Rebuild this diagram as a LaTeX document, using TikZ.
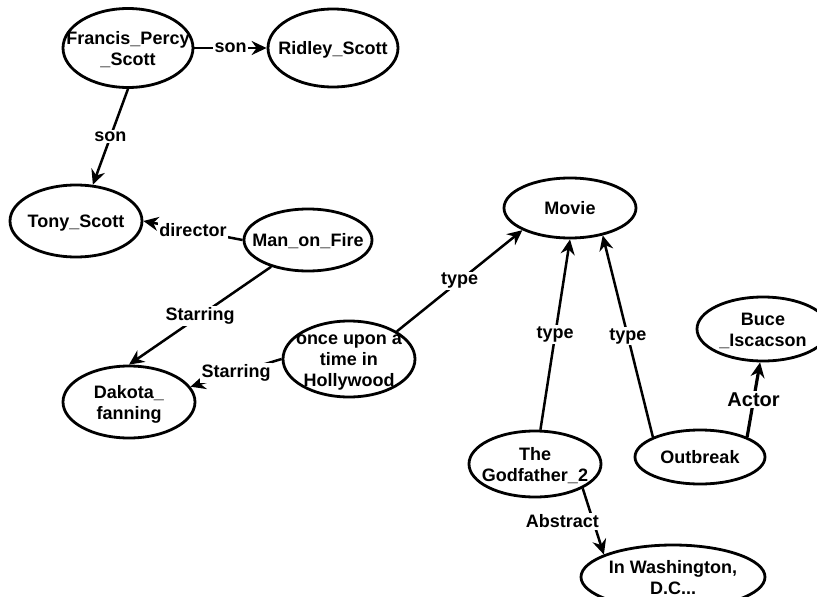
\documentclass[tikz,border=0pt]{standalone}
\usepackage{fontspec}
\setmainfont{Liberation Sans}
\usetikzlibrary{arrows.meta, shapes.geometric}

% text of an entity, kept out of the ellipse size
\newcommand{\entxt}[1]{\makebox[0pt]{\raisebox{-0.38em}[0pt][0pt]{\begin{tabular}{@{}c@{}}#1\end{tabular}}}}

\begin{document}
\begin{tikzpicture}[
    x=1pt, y=-1pt,
    ent/.style={ellipse, draw=black, line width=2.8pt, inner sep=0pt,
        font=\bfseries\fontsize{18}{21}\selectfont},
    rel/.style={-{Stealth[length=15pt, width=14pt, inset=5pt]}, line width=2.5pt},
    lbl/.style={fill=white, inner sep=1.5pt, font=\bfseries\fontsize{18}{21}\selectfont}
]
    \useasboundingbox (0,0) rectangle (817,597);

    % ---- entities ----
    \node[ent, minimum width=130pt, minimum height=79pt] (francis)  at (128,48)  {\entxt{Francis\_Percy\\\_Scott}};
    \node[ent, minimum width=130pt, minimum height=78pt] (ridley)   at (333,48)  {\entxt{Ridley\_Scott}};
    \node[ent, minimum width=132pt, minimum height=72pt] (tony)     at (76,221)  {\entxt{Tony\_Scott}};
    \node[ent, minimum width=128pt, minimum height=62pt] (fire)     at (308,240) {\entxt{Man\_on\_Fire}};
    \node[ent, minimum width=132pt, minimum height=72pt] (dakota)   at (129,402) {\entxt{Dakota\_\\fanning}};
    \node[ent, minimum width=132pt, minimum height=76pt] (once)     at (349,359) {\entxt{once upon a\\time in\\Hollywood}};
    \node[ent, minimum width=132pt, minimum height=60pt] (movie)    at (570,208) {\entxt{Movie}};
    \node[ent, minimum width=132pt, minimum height=64pt] (buce)     at (763,329) {\entxt{Buce\\\_Iscacson}};
    \node[ent, minimum width=132pt, minimum height=66pt] (godf)     at (535,464) {\entxt{The\\Godfather\_2}};
    \node[ent, minimum width=130pt, minimum height=54pt] (outbreak) at (700,457) {\entxt{Outbreak}};
    \node[ent, minimum width=184pt, minimum height=64pt] (wash)     at (673,577) {\entxt{In Washington,\\D.C...}};

    % ---- relations ----
    \draw[rel] (francis.east)  -- node[lbl] {son}      (ridley.west);
    \draw[rel] (francis.south) -- node[lbl] {son}      (tony.65);
    \draw[rel] (fire.west)     -- node[lbl] {director} (tony.east);
    \draw[rel] (fire.216)      -- node[lbl] {Starring} (dakota.north);
    \draw[rel] (once.west)     -- node[lbl] {Starring} (dakota.14);
    \draw[rel] (once.30)       -- node[lbl] {type}     (movie.205);
    \draw[rel] (godf.81)       -- node[lbl] {type}     (movie.south);
    \draw[rel] (outbreak.157)  -- node[lbl] {type}     (movie.320);
    \draw[rel, line width=3.2pt] (outbreak.23) -- node[lbl, font=\bfseries\fontsize{20}{23}\selectfont] {Actor} (buce.265);
    \draw[rel] (godf.333) -- node[lbl, pos=0.5, xshift=-31pt] {Abstract} (wash.162);
\end{tikzpicture}
\end{document}
